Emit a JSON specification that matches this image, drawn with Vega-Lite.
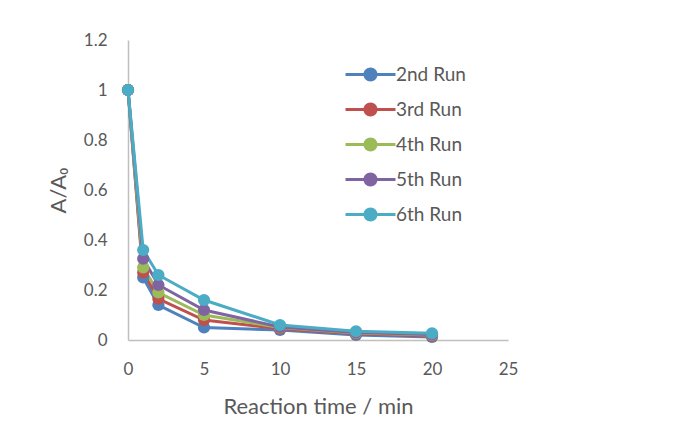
{
  "$schema": "https://vega.github.io/schema/vega-lite/v6.json",
  "autosize": "none",
  "width": 380,
  "height": 300,
  "padding": {"left": 128, "top": 40, "right": 192, "bottom": 104},
  "background": "white",
  "config": {
    "view": {"stroke": null},
    "font": "Lato",
    "axis": {
      "grid": false,
      "ticks": false,
      "tickSize": 0,
      "labelFlush": false,
      "domainColor": "#BFBFBF",
      "domainWidth": 1.5,
      "labelColor": "#595959",
      "labelFont": "Lato",
      "labelFontSize": 17,
      "titleColor": "#595959",
      "titleFont": "Lato",
      "titleFontSize": 22,
      "titleFontWeight": "normal"
    }
  },
  "data": {
    "values": [
      {"t": 0, "v": 1, "run": "2nd Run"},
      {"t": 1, "v": 0.25, "run": "2nd Run"},
      {"t": 2, "v": 0.14, "run": "2nd Run"},
      {"t": 5, "v": 0.05, "run": "2nd Run"},
      {"t": 10, "v": 0.04, "run": "2nd Run"},
      {"t": 15, "v": 0.02, "run": "2nd Run"},
      {"t": 20, "v": 0.012, "run": "2nd Run"},
      {"t": 0, "v": 1, "run": "3rd Run"},
      {"t": 1, "v": 0.27, "run": "3rd Run"},
      {"t": 2, "v": 0.165, "run": "3rd Run"},
      {"t": 5, "v": 0.08, "run": "3rd Run"},
      {"t": 10, "v": 0.045, "run": "3rd Run"},
      {"t": 15, "v": 0.025, "run": "3rd Run"},
      {"t": 20, "v": 0.016, "run": "3rd Run"},
      {"t": 0, "v": 1, "run": "4th Run"},
      {"t": 1, "v": 0.29, "run": "4th Run"},
      {"t": 2, "v": 0.19, "run": "4th Run"},
      {"t": 5, "v": 0.1, "run": "4th Run"},
      {"t": 10, "v": 0.05, "run": "4th Run"},
      {"t": 15, "v": 0.028, "run": "4th Run"},
      {"t": 20, "v": 0.02, "run": "4th Run"},
      {"t": 0, "v": 1, "run": "5th Run"},
      {"t": 1, "v": 0.325, "run": "5th Run"},
      {"t": 2, "v": 0.22, "run": "5th Run"},
      {"t": 5, "v": 0.12, "run": "5th Run"},
      {"t": 10, "v": 0.052, "run": "5th Run"},
      {"t": 15, "v": 0.03, "run": "5th Run"},
      {"t": 20, "v": 0.022, "run": "5th Run"},
      {"t": 0, "v": 1, "run": "6th Run"},
      {"t": 1, "v": 0.36, "run": "6th Run"},
      {"t": 2, "v": 0.26, "run": "6th Run"},
      {"t": 5, "v": 0.16, "run": "6th Run"},
      {"t": 10, "v": 0.06, "run": "6th Run"},
      {"t": 15, "v": 0.035, "run": "6th Run"},
      {"t": 20, "v": 0.027, "run": "6th Run"}
    ]
  },
  "encoding": {
    "x": {
      "field": "t",
      "type": "quantitative",
      "title": "Reaction time / min",
      "scale": {"domain": [0, 25], "nice": false},
      "axis": {"values": [0, 5, 10, 15, 20, 25], "format": "~g", "labelPadding": 21, "titleY": 66, "titleBaseline": "middle"}
    },
    "y": {
      "field": "v",
      "type": "quantitative",
      "title": "A/A₀",
      "scale": {"domain": [0, 1.2], "nice": false},
      "axis": {
        "values": [0, 0.2, 0.4, 0.6, 0.8, 1, 1.2],
        "format": "~g",
        "labelPadding": 21,
        "titleX": -70,
        "titleY": 150,
        "titleAngle": -90,
        "titleBaseline": "middle",
        "titleAlign": "center"
      }
    },
    "color": {
      "field": "run",
      "type": "nominal",
      "scale": {
        "domain": ["2nd Run", "3rd Run", "4th Run", "5th Run", "6th Run"],
        "range": ["#4F81BD", "#C0504D", "#9BBB59", "#8064A2", "#4BACC6"]
      },
      "legend": {
        "title": null,
        "orient": "none",
        "legendX": 233,
        "legendY": 25,
        "symbolType": "M-5,-0.3L-1.2,-0.3L-1.2,0.3L-5,0.3Z M1.2,-0.3L5,-0.3L5,0.3L1.2,0.3Z M-1.4,0A1.4,1.4,0,1,1,1.4,0A1.4,1.4,0,1,1,-1.4,0Z",
        "symbolSize": 100,
        "symbolStrokeWidth": 0,
        "labelOffset": 16,
        "labelFont": "Lato",
        "labelFontSize": 19,
        "labelColor": "#595959",
        "rowPadding": 15,
        "labelExpr": "datum.label == '4th Run' || datum.label == '5th Run' ? '\u00a0' + datum.label : datum.label",
        "encode": {
          "symbols": {
            "update": {
              "fill": {"scale": "color", "field": "value"},
              "stroke": {"value": "transparent"},
              "strokeWidth": {"value": 0},
              "opacity": {"value": 1}
            }
          }
        }
      }
    }
  },
  "layer": [
    {"mark": {"type": "line", "strokeWidth": 3}},
    {"mark": {"type": "point", "filled": true, "size": 150, "opacity": 1}}
  ]
}
